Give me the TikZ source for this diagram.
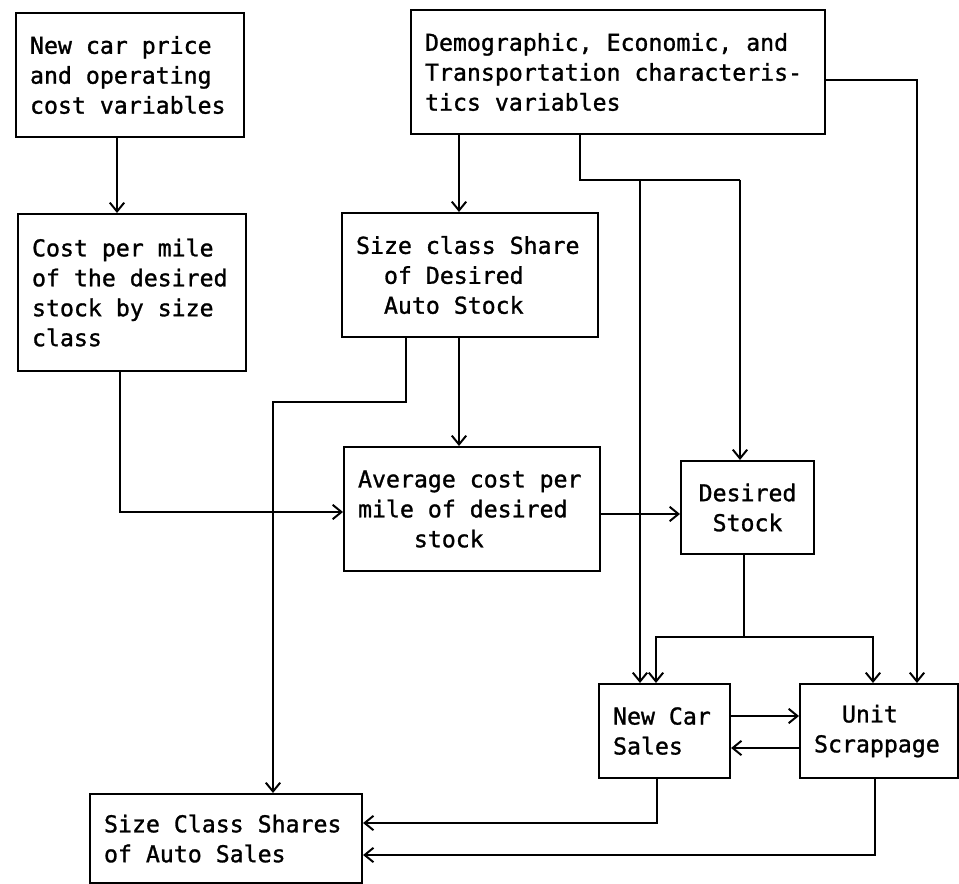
\documentclass[tikz,border=0pt]{standalone}
\usepackage{fontspec}
\usepackage{tikz}
\usetikzlibrary{arrows.meta}
\newfontfamily\typefont[FakeBold=1.2]{DejaVu Sans Mono}

\tikzset{
  blk/.style={draw, line width=1.5pt, anchor=north west, align=flush left,
    inner xsep=3.5mm, inner ysep=0pt,
    font={\typefont\fontsize{16.5}{21.3}\selectfont}},
  arr/.style={line width=1.4pt, -{Straight Barb[length=2.2mm,width=3.6mm]}},
  ln/.style={line width=1.4pt}
}

\begin{document}
\begin{tikzpicture}[x=0.25mm, y=-0.25mm]
   \useasboundingbox (0,0) rectangle (959,884);

   % boxes
   \node[blk, text width=50mm, minimum height=31mm] (price) at (15,12)
     {New car price\\and operating\\cost variables};
   \node[blk, text width=96.5mm, minimum height=31mm] (demo) at (410,9)
     {Demographic, Economic, and\\Transportation characteris-\\tics variables};
   \node[blk, text width=50mm, minimum height=39.25mm] (cpm) at (17,213)
     {Cost per mile\\of the desired\\stock by size\\class};
   \node[blk, text width=57mm, minimum height=31mm] (share) at (341,212)
     {Size class Share\\\phantom{xx}of Desired\\\phantom{xx}Auto Stock};
   \node[blk, text width=57mm, minimum height=31mm] (avg) at (343,446)
     {Average cost per\\mile of desired\\\phantom{xxxx}stock};
   \node[blk, align=flush center, text width=26.25mm, minimum height=23.25mm] (des) at (680,460)
     {Desired\\Stock};
   \node[blk, text width=25.75mm, minimum height=23.5mm] (sales) at (598,683)
     {New Car\\Sales};
   \node[blk, text width=32.5mm, minimum height=23.5mm] (scrap) at (799,683)
     {\phantom{xx}Unit\\Scrappage};
   \node[blk, text width=61mm, minimum height=22.25mm] (sizes) at (89,793)
     {Size Class Shares\\of Auto Sales};

   % bend points
   \coordinate (xa) at (117,0);
   \coordinate (xb) at (459,0);
   \coordinate (jb1) at (580,180);
   \coordinate (jb2) at (640,180);
   \coordinate (jb3) at (740,180);
   \coordinate (jr) at (917,80);
   \coordinate (jd1) at (406,402);
   \coordinate (jd2) at (273,402);
   \coordinate (jc) at (120,512);
   \coordinate (ye) at (0,514);
   \coordinate (jf) at (744,637);
   \coordinate (jg) at (656,637);
   \coordinate (jh) at (873,637);
   \coordinate (yg) at (0,716);
   \coordinate (yh) at (0,748);
   \coordinate (js1) at (657,823);
   \coordinate (js2) at (875,855);

   % connectors
   \draw[arr] (price.south -| xa) -- (cpm.north -| xa);
   \draw[arr] (demo.south -| xb) -- (share.north -| xb);
   \draw[arr] (share.south -| xb) -- (avg.north -| xb);
   \draw[ln] (demo.south -| jb1) -- (jb1) -- (jb3);
   \draw[arr] (jb3) -- (des.north -| jb3);
   \draw[arr] (jb2) -- (sales.north -| jb2);
   \draw[arr] (demo.east |- jr) -- (jr) -- (scrap.north -| jr);
   \draw[arr] (share.south -| jd1) -- (jd1) -- (jd2) -- (sizes.north -| jd2);
   \draw[arr] (cpm.south -| jc) -- (jc) -- (avg.west |- jc);
   \draw[arr] (avg.east |- ye) -- (des.west |- ye);
   \draw[arr] (des.south -| jf) -- (jf) -- (jg) -- (sales.north -| jg);
   \draw[arr] (jf) -- (jh) -- (scrap.north -| jh);
   \draw[arr] (sales.east |- yg) -- (scrap.west |- yg);
   \draw[arr] (scrap.west |- yh) -- (sales.east |- yh);
   \draw[arr] (sales.south -| js1) -- (js1) -- (sizes.east |- js1);
   \draw[arr] (scrap.south -| js2) -- (js2) -- (sizes.east |- js2);
\end{tikzpicture}
\end{document}
